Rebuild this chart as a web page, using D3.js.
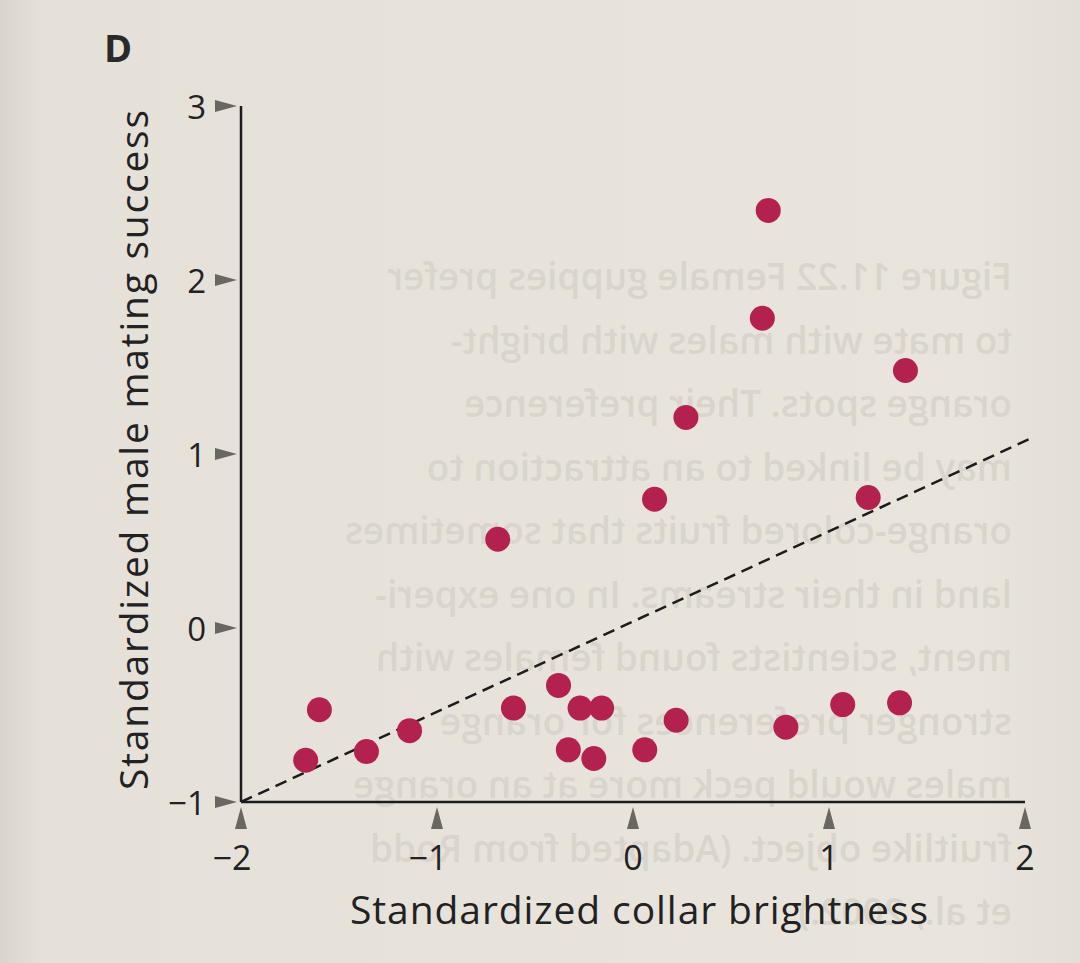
<html>
  <head>
    <style>
      body { margin: 0; background: #e7e3db; }
      svg { display: block; }
      text { font-family: "Open Sans", "Noto Sans", sans-serif; }
    </style>
  </head>
  <body>
    <script src="https://d3js.org/d3.v7.min.js"></script>
    <script>
    // collar brightness (x) and mating success (y)
    var brightness = [-1.67, -1.60, -1.36, -1.14, -0.69, -0.61, -0.38, -0.33, -0.27, -0.20, -0.16,
                      0.06, 0.11, 0.22, 0.27, 0.66, 0.69, 0.78, 1.07, 1.20, 1.36, 1.39];
    var success = [-0.76, -0.47, -0.71, -0.59, 0.51, -0.46, -0.33, -0.70, -0.46, -0.75, -0.46,
                   -0.70, 0.74, -0.53, 1.21, 1.78, 2.40, -0.57, -0.44, 0.75, -0.43, 1.48];
    var xTicks = [-2, -1, 0, 1, 2];
    var yTicks = [-1, 0, 1, 2, 3];
    var fitLine = [[-2, -1], [2.03, 1.09]];

    // page text showing through from the other side
    var ghostLines = ["Figure 11.22  Female guppies prefer", "to mate with males with bright-",
      "orange spots. Their preference", "may be linked to an attraction to",
      "orange-colored fruits that sometimes", "land in their streams. In one experi-",
      "ment, scientists found females with", "stronger preferences for orange",
      "males would peck more at an orange", "fruitlike object. (Adapted from Rodd",
      "et al., 2002.)"];

    var width = 1080, height = 963;

    var svg = d3.select("body").append("svg")
        .attr("width", width)
        .attr("height", height);

    var defs = svg.append("defs");
    var grad = defs.append("linearGradient").attr("id", "paper").attr("x1", 0).attr("x2", 1);
    grad.append("stop").attr("offset", 0).attr("stop-color", "#d9d5cc");
    grad.append("stop").attr("offset", 0.04).attr("stop-color", "#e5e1d9");
    grad.append("stop").attr("offset", 0.9).attr("stop-color", "#e9e5dd");
    grad.append("stop").attr("offset", 1).attr("stop-color", "#e3dfd7");
    svg.append("rect").attr("width", width).attr("height", height).attr("fill", "url(#paper)");

    // mirrored ghost text
    var ghost = svg.append("g")
        .attr("transform", "translate(" + width + ",0) scale(-1,1)")
        .attr("fill", "#d9d5cd");
    ghost.selectAll("text")
      .data(ghostLines)
      .enter().append("text")
        .attr("x", 68)
        .attr("y", function(d, i) { return 290 + i * 63.5; })
        .attr("font-size", 37)
        .attr("font-weight", 600)
        .text(function(d) { return d; });

    var x = d3.scaleLinear().domain([-2, 2]).range([241, 1025]);
    var y = d3.scaleLinear().domain([-1, 3]).range([802, 106]);

    // axes
    svg.append("line")
        .attr("x1", x(-2)).attr("x2", x(2))
        .attr("y1", y(-1)).attr("y2", y(-1))
        .attr("stroke", "#1c1c1c").attr("stroke-width", 2.5);
    svg.append("line")
        .attr("x1", x(-2)).attr("x2", x(-2))
        .attr("y1", y(-1)).attr("y2", y(3))
        .attr("stroke", "#1c1c1c").attr("stroke-width", 2.5);

    // triangle tick markers
    svg.selectAll(".ytick")
      .data(yTicks)
      .enter().append("path")
        .attr("class", "ytick")
        .attr("d", function(d) {
          var yy = y(d), xx = x(-2) - 4;
          return "M" + (xx - 22) + "," + (yy - 6) + "L" + xx + "," + yy + "L" + (xx - 22) + "," + (yy + 6) + "Z";
        })
        .attr("fill", "#6a6662");
    svg.selectAll(".xtick")
      .data(xTicks)
      .enter().append("path")
        .attr("class", "xtick")
        .attr("d", function(d) {
          var xx = x(d), yy = y(-1) + 5;
          return "M" + (xx - 6) + "," + (yy + 22) + "L" + xx + "," + yy + "L" + (xx + 6) + "," + (yy + 22) + "Z";
        })
        .attr("fill", "#6a6662");

    svg.selectAll(".ylab")
      .data(yTicks)
      .enter().append("text")
        .attr("x", 206)
        .attr("y", function(d) { return y(d) + 13; })
        .attr("text-anchor", "end")
        .attr("font-size", 33)
        .attr("fill", "#222")
        .text(function(d) { return d < 0 ? "\u2212" + Math.abs(d) : d; });

    svg.selectAll(".xlab")
      .data(xTicks)
      .enter().append("text")
        .attr("x", function(d) { return d < 0 ? x(d) - 9 : x(d); })
        .attr("y", 870)
        .attr("text-anchor", "middle")
        .attr("font-size", 34)
        .attr("fill", "#222")
        .text(function(d) { return d < 0 ? "\u2212" + Math.abs(d) : d; });

    // fit line
    svg.append("path")
        .attr("d", d3.line().x(function(d) { return x(d[0]); }).y(function(d) { return y(d[1]); })(fitLine))
        .attr("fill", "none")
        .attr("stroke", "#1c1c1c")
        .attr("stroke-width", 2.5)
        .attr("stroke-dasharray", "12,7");

    // points
    svg.append("g").selectAll("circle")
      .data(brightness)
      .enter().append("circle")
        .attr("cx", function(d) { return x(d); })
        .attr("cy", function(d, i) { return y(success[i]); })
        .attr("r", 12.5)
        .attr("fill", "#b3224f");

    // axis titles
    svg.append("text")
        .attr("x", 639).attr("y", 924)
        .attr("text-anchor", "middle")
        .attr("font-size", 39)
        .attr("textLength", 578)
        .attr("fill", "#222")
        .text("Standardized collar brightness");
    svg.append("text")
        .attr("transform", "translate(148,450) rotate(-90)")
        .attr("text-anchor", "middle")
        .attr("font-size", 39)
        .attr("textLength", 680)
        .attr("fill", "#222")
        .text("Standardized male mating success");

    svg.append("text")
        .attr("x", 104).attr("y", 62)
        .attr("font-size", 38)
        .attr("font-weight", "bold")
        .attr("fill", "#2a2a2a")
        .text("D");
    </script>
  </body>
</html>
